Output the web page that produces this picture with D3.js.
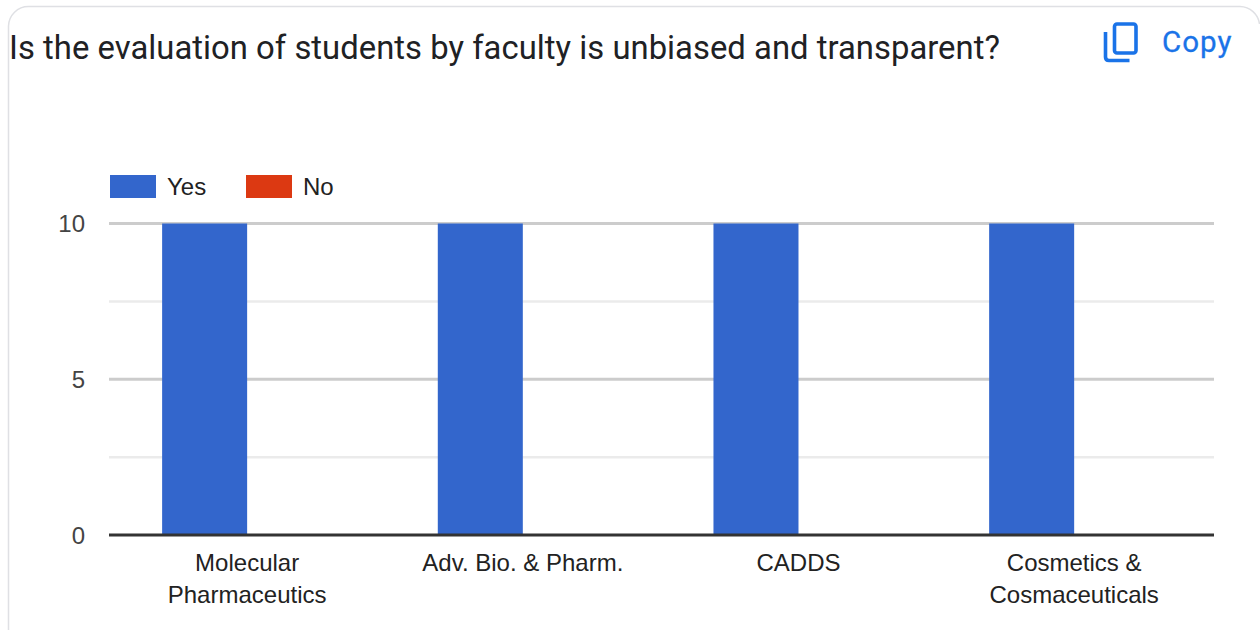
<!DOCTYPE html>
<html>
<head>
<meta charset="utf-8">
<script src="https://cdn.jsdelivr.net/npm/d3@7/dist/d3.min.js"></script>
<style>html,body{margin:0;padding:0;background:#fff;overflow:hidden}svg{display:block}</style>
</head>
<body>
<svg id="c" width="1260" height="630"></svg>
<script>
const categories = [["Molecular","Pharmaceutics"],["Adv. Bio. & Pharm."],["CADDS"],["Cosmetics &","Cosmaceuticals"]];
const seriesNames = ["Yes","No"];
const seriesColors = ["#3366cc","#dc3912"];
const yesValues = [10,10,10,10];
const noValues = [0,0,0,0];
const yTicks = [0,5,10];
const yMinor = [2.5,7.5];
const titleText = "Is the evaluation of students by faculty is unbiased and transparent?";

const svg = d3.select("#c");
const sansAxis = "'Liberation Sans', Arial, sans-serif";

// card outline
svg.append("path").attr("d","M8.5,630 V26 A20,20 0 0 1 28.5,6.5 H1240 A20,20 0 0 1 1259.5,24")
  .attr("fill","none").attr("stroke","#dfe0e4").attr("stroke-width",1.5);

svg.append("text").attr("x",9).attr("y",58.6).attr("font-family","Roboto").attr("font-size",32.8)
  .attr("letter-spacing",0.03).attr("fill","#202124").text(titleText);

// copy icon
const icon = svg.append("g").attr("fill","none").attr("stroke","#1a73e8").attr("stroke-width",3.6);
icon.append("rect").attr("x",1114.5).attr("y",24).attr("width",21.5).attr("height",29).attr("rx",2.5);
icon.append("path").attr("d","M1105.5,32 V57 Q1105.5,60.5 1109,60.5 H1129.5");
svg.append("text").attr("x",1162).attr("y",52).attr("font-family","Roboto").attr("font-weight",400)
  .attr("font-size",29.5).attr("letter-spacing",1).attr("stroke","#1a73e8").attr("stroke-width",0.3)
  .attr("fill","#1a73e8").text("Copy");

const x = d3.scaleBand().domain(d3.range(categories.length)).range([109.3,1212]).paddingInner(0.3832).paddingOuter(0.1916);
const xs = d3.scaleBand().domain(seriesNames).range([0,x.bandwidth()]);
const y = d3.scaleLinear().domain([0,10]).range([535,223.5]);

// gridlines
svg.append("g").selectAll("line").data(yMinor).join("line")
  .attr("x1",109).attr("x2",1214).attr("y1",d=>y(d)).attr("y2",d=>y(d))
  .attr("stroke","#ebebeb").attr("stroke-width",2.5);
svg.append("g").selectAll("line").data(yTicks.filter(d=>d!==0)).join("line")
  .attr("x1",109).attr("x2",1214).attr("y1",d=>y(d)).attr("y2",d=>y(d))
  .attr("stroke","#cccccc").attr("stroke-width",3);

// bars
[yesValues,noValues].forEach((vals,i)=>{
  svg.append("g").selectAll("rect").data(vals).join("rect")
    .attr("x",(d,j)=>x(j)+xs(seriesNames[i]))
    .attr("width",xs.bandwidth())
    .attr("y",d=>y(d)).attr("height",d=>y(0)-y(d))
    .attr("fill",seriesColors[i]);
});

// baseline
svg.append("line").attr("x1",109).attr("x2",1214).attr("y1",y(0)).attr("y2",y(0))
  .attr("stroke","#333333").attr("stroke-width",3);

// y labels
svg.append("g").selectAll("text").data(yTicks).join("text")
  .attr("x",85).attr("y",d=>y(d)+8.5).attr("text-anchor","end")
  .attr("font-family",sansAxis).attr("font-size",24).attr("fill","#444444").text(d=>d);

// x labels
const xl = svg.append("g").selectAll("text").data(categories).join("text")
  .attr("text-anchor","middle").attr("font-family",sansAxis).attr("font-size",24).attr("fill","#222222");
xl.each(function(lines,i){
  d3.select(this).selectAll("tspan").data(lines).join("tspan")
    .attr("x",x(i)+x.bandwidth()/2).attr("y",(d,k)=>571+k*32).text(d=>d);
});

// legend
const legendX = [110,246];
const lg = svg.append("g").selectAll("g").data(seriesNames).join("g");
lg.append("rect").attr("x",(d,i)=>legendX[i]).attr("y",175).attr("width",46).attr("height",23)
  .attr("fill",(d,i)=>seriesColors[i]);
lg.append("text").attr("x",(d,i)=>legendX[i]+57).attr("y",195)
  .attr("font-family",sansAxis).attr("font-size",24).attr("fill","#222222").text(d=>d);
</script>
</body>
</html>
